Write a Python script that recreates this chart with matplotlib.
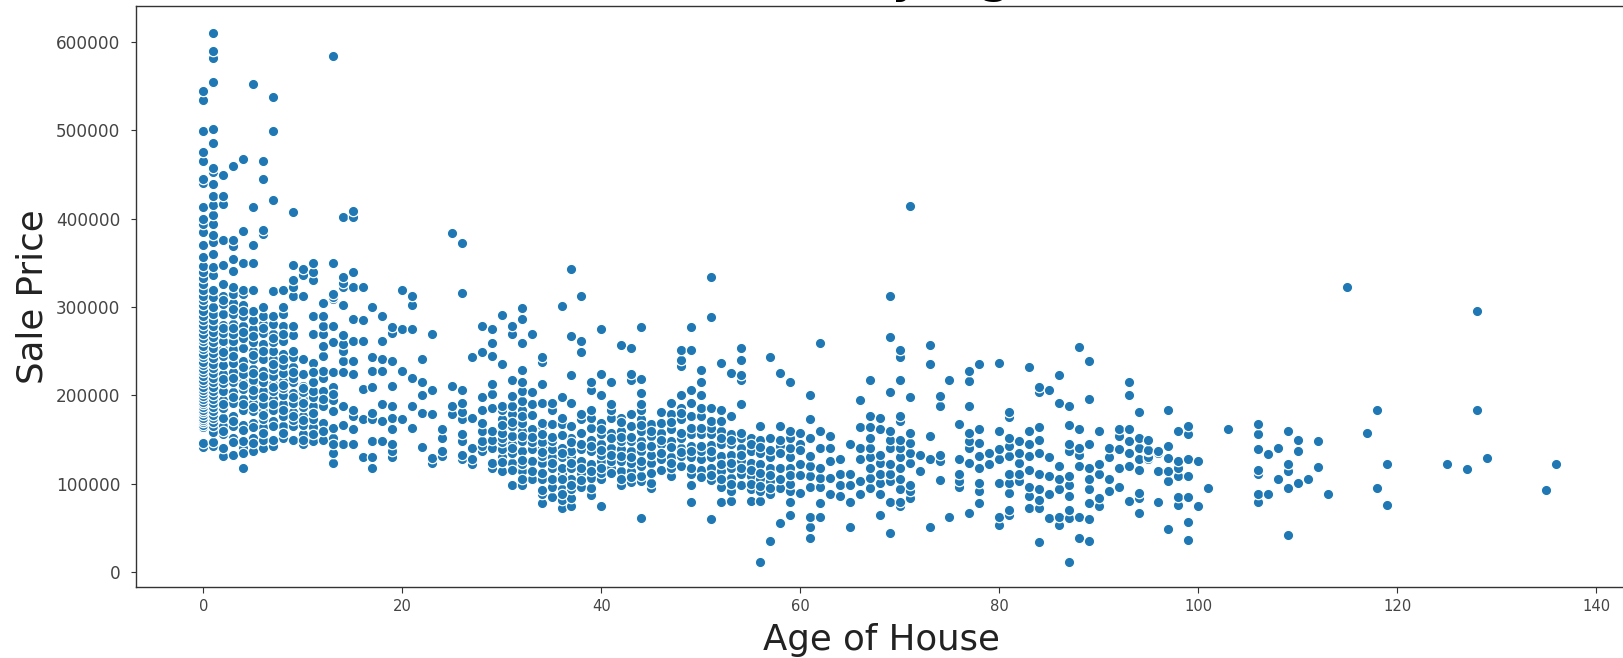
import matplotlib
matplotlib.use("Agg")
import matplotlib.pyplot as plt

# sale prices in thousands, one list per age of house
ages_0_9 = {
    0: [142, 146, 164, 167, 170, 172, 175, 178, 181, 184, 187, 190, 193, 196, 199, 203, 206, 210, 214, 218, 222, 226, 230, 234, 238, 243, 247, 252, 256, 261, 265, 270, 275, 280, 285, 290, 296, 302, 308, 313, 319, 326, 333, 340, 346, 357, 370, 385, 394, 400, 413, 440, 445, 465, 475, 499, 534, 544],
    1: [143, 147, 159, 165, 170, 174, 178, 182, 187, 191, 196, 201, 205, 210, 215, 220, 225, 231, 236, 242, 248, 254, 260, 266, 272, 278, 285, 292, 300, 311, 319, 336, 345, 360, 373, 381, 394, 404, 415, 425, 439, 453, 457, 485, 501, 553, 555, 582, 590, 610],
    2: [131, 141, 156, 165, 175, 186, 195, 205, 214, 224, 234, 245, 253, 262, 271, 280, 292, 303, 313, 326, 347, 376, 416, 425, 449],
    3: [133, 152, 165, 177, 192, 204, 215, 226, 237, 252, 261, 270, 281, 292, 305, 315, 323, 341, 354, 369, 376, 459],
    4: [118, 141, 148, 167, 184, 196, 207, 215, 224, 239, 254, 265, 279, 290, 302, 315, 319, 350, 386, 467],
    5: [137, 152, 169, 182, 192, 201, 210, 218, 230, 241, 250, 260, 275, 285, 296, 319, 350, 370, 413, 552],
    6: [141, 150, 164, 173, 182, 190, 205, 215, 228, 241, 258, 271, 281, 290, 300, 382, 387, 445, 465],
    7: [143, 171, 184, 196, 205, 213, 222, 230, 241, 250, 260, 269, 281, 290, 318, 421, 499, 537],
    8: [152, 165, 177, 190, 201, 208, 216, 225, 234, 247, 262, 279, 292, 300, 319],
    9: [165, 172, 181, 192, 203, 215, 220, 232, 243, 268, 279, 311, 313, 323, 330, 347, 408],
}
ages_10_19 = {
    10: [145, 156, 167, 177, 187, 196, 204, 211, 224, 241, 313, 336, 343],
    11: [148, 164, 173, 188, 198, 205, 215, 237, 269, 290, 331, 340, 350],
    12: [150, 169, 188, 205, 220, 228, 245, 256, 269, 279, 290, 305],
    13: [124, 135, 152, 163, 182, 195, 209, 226, 260, 279, 309, 311, 315, 350, 584],
    14: [145, 167, 188, 226, 239, 250, 258, 268, 302, 323, 327, 334, 402],
    15: [145, 162, 177, 184, 224, 239, 262, 286, 323, 340, 402, 409],
    16: [130, 173, 207, 262, 285, 323],
    17: [118, 130, 148, 173, 180, 209, 228, 243, 300],
    18: [148, 171, 190, 228, 241, 262, 290],
    19: [130, 137, 145, 162, 175, 188, 211, 239, 271, 277],
}
ages_20_39 = {
    20: [173, 228, 275, 319],
    21: [163, 188, 220, 275, 302, 313],
    22: [142, 180, 201, 215, 241],
    23: [124, 129, 179, 206, 269],
    24: [131, 137, 152, 162],
    25: [179, 188, 211, 384],
    26: [128, 133, 148, 156, 173, 181, 191, 206, 316, 372],
    27: [122, 128, 140, 174, 243],
    28: [137, 143, 148, 160, 169, 183, 198, 249, 278],
    29: [118, 124, 141, 150, 160, 186, 202, 213, 245, 259, 275],
    30: [114, 130, 139, 147, 152, 162, 173, 183, 188, 235, 291],
    31: [99, 124, 135, 145, 154, 165, 179, 188, 199, 217, 270, 279],
    32: [99, 114, 122, 137, 148, 160, 169, 184, 194, 205, 215, 229, 259, 287, 299],
    33: [105, 126, 139, 147, 162, 190, 204, 269],
    34: [78, 88, 105, 124, 131, 141, 147, 165, 169, 192, 213, 238, 243],
    35: [85, 97, 118, 130, 139, 148, 168, 184, 191],
    36: [73, 82, 94, 111, 118, 130, 141, 168, 175, 198, 301],
    37: [75, 84, 94, 105, 118, 131, 137, 152, 165, 192, 223, 267, 343],
    38: [97, 112, 126, 139, 158, 173, 179, 249, 261, 313],
    39: [87, 95, 107, 122, 137, 150, 163, 175, 184, 206, 215],
}
ages_40_59 = {
    40: [75, 105, 112, 126, 133, 145, 156, 169, 200, 224, 275],
    41: [118, 126, 141, 158, 175, 184, 190, 215],
    42: [99, 114, 126, 139, 148, 160, 175, 257],
    43: [102, 114, 124, 137, 148, 165, 179, 217, 224, 254],
    44: [61, 103, 109, 120, 137, 148, 160, 173, 184, 190, 203, 219, 277],
    45: [95, 101, 124, 133, 154, 168],
    46: [116, 128, 145, 158, 169, 181],
    47: [109, 118, 130, 148, 162, 179, 192],
    48: [120, 131, 141, 152, 173, 186, 200, 233, 240, 251],
    49: [79, 99, 111, 130, 143, 156, 177, 192, 206, 251, 277],
    50: [116, 128, 137, 156, 177, 186, 200, 215, 229],
    51: [60, 104, 118, 130, 144, 156, 163, 171, 186, 289, 334],
    52: [80, 97, 114, 131, 145, 160, 171, 184, 237],
    53: [81, 92, 107, 118, 133, 145, 156, 177, 225],
    54: [99, 111, 126, 141, 152, 190, 217, 223, 240, 254],
    55: [81, 94, 109, 124, 137, 152],
    56: [12, 81, 92, 105, 122, 135, 150, 165],
    57: [35, 88, 103, 118, 130, 152, 243],
    58: [56, 95, 118, 143, 165, 225],
    59: [65, 80, 92, 118, 130, 141, 152, 160, 215],
}
ages_60_79 = {
    60: [90, 122, 145, 158],
    61: [39, 51, 63, 97, 109, 120, 131, 152, 173, 201],
    62: [63, 78, 97, 107, 118, 141, 160, 259],
    63: [88, 107, 126, 141, 154],
    64: [86, 99, 111, 128],
    65: [51, 80, 99, 111, 145],
    66: [88, 103, 128, 141, 164, 195],
    67: [95, 107, 118, 130, 141, 152, 164, 177, 218],
    68: [65, 88, 101, 111, 124, 133, 162, 174],
    69: [44, 80, 103, 111, 122, 141, 150, 160, 204, 266, 312],
    70: [75, 80, 94, 105, 118, 130, 141, 150, 171, 177, 218, 243, 251],
    71: [84, 92, 99, 124, 135, 146, 158, 198, 414],
    72: [114, 133],
    73: [51, 128, 154, 235, 257],
    74: [104, 126, 133, 188, 199],
    75: [63, 218],
    76: [97, 103, 111, 128, 168],
    77: [67, 124, 141, 148, 158, 188, 216, 228],
    78: [78, 92, 101, 118, 131, 146, 162, 235],
    79: [122, 135],
}
ages_80_up = {
    80: [54, 63, 101, 128, 139, 160, 237],
    81: [65, 71, 90, 101, 111, 131, 143, 152, 176, 181],
    82: [103, 111, 124, 135, 148],
    83: [73, 86, 97, 116, 131, 145, 160, 232],
    84: [34, 73, 82, 94, 111, 135, 150, 164, 204, 209],
    85: [61, 88, 109, 130, 206],
    86: [54, 63, 94, 105, 120, 191, 223],
    87: [12, 61, 71, 86, 99, 109, 137, 145, 167, 188],
    88: [39, 63, 120, 133, 141, 162, 255],
    89: [35, 60, 78, 94, 105, 118, 145, 196, 239],
    90: [75, 84, 111, 122, 160],
    91: [92, 105, 130, 141],
    92: [97, 118, 139, 154, 162],
    93: [81, 120, 135, 148, 162, 200, 215],
    94: [67, 84, 90, 116, 128, 141, 152, 181],
    95: [128, 130, 137, 138, 150],
    96: [80, 114, 135, 137],
    97: [49, 103, 114, 129, 143, 184],
    98: [76, 85, 109, 118, 126, 160],
    99: [37, 57, 85, 109, 128, 156, 165],
    100: [75, 126],
    101: [95],
    103: [162],
    106: [79, 88, 111, 116, 139, 156, 168],
    107: [89, 134],
    108: [105, 140],
    109: [42, 95, 114, 122, 160],
    110: [101, 137, 150],
    111: [105],
    112: [119, 148],
    113: [89],
    115: [323],
    117: [158],
    118: [95, 184],
    119: [76, 123],
    125: [122],
    127: [117],
    128: [184, 295],
    129: [129],
    135: [93],
    136: [122],
}
# marks that only show as crescents behind others in the dense part of the cloud
overlapped = {
    2: [160, 190, 219, 249, 276, 308],
    3: [147, 171, 198, 220, 245, 276, 298],
    4: [135, 161, 190, 212, 232, 272, 296],
    5: [146, 164, 187, 206, 225, 246, 267],
    6: [157, 178, 198, 222, 250, 276],
    7: [150, 165, 190, 209, 236, 265],
    8: [158, 184, 212, 241, 270],
    9: [150, 177, 198, 226, 250],
    10: [150, 172, 192, 208],
    11: [156, 180, 226],
    12: [160, 196],
    13: [145, 202],
    30: [125, 157, 167],
    31: [116, 140, 170],
    32: [105, 127, 154, 177],
    33: [115, 153, 178],
    34: [93, 112, 136, 156],
    35: [105, 124, 153],
    36: [88, 105, 135, 155],
    37: [99, 124, 147],
    38: [104, 118, 145],
    39: [114, 143],
    40: [118, 138, 162],
    41: [112, 133, 152],
    42: [105, 132, 153, 170],
    43: [108, 130, 153],
    44: [126, 143, 166],
    45: [112, 143, 160],
    46: [135, 150],
    47: [124, 142, 170],
    48: [136, 158, 180],
    49: [118, 137, 163],
    50: [108, 143, 163],
    51: [110, 137],
    52: [105, 122, 152],
    53: [100, 124, 150],
    54: [118, 133, 158],
    55: [100, 116, 145],
    56: [98, 112, 142],
    57: [95, 110, 138],
    58: [105, 135, 150],
    59: [100, 110],
    60: [110, 138],
}
x_ticks = [0, 20, 40, 60, 80, 100, 120, 140]
y_ticks = [0, 100000, 200000, 300000, 400000, 500000, 600000]

age, price = [], []
for group in [ages_0_9, ages_10_19, ages_20_39, ages_40_59, ages_60_79, ages_80_up, overlapped]:
    for a, values in group.items():
        for v in values:
            age.append(a)
            price.append(v * 1000)

W, H = 1623, 658
fig = plt.figure(figsize=(W / 100, H / 100), dpi=100)
ax = fig.add_axes([136 / W, (H - 586.7) / H, (1626 - 136) / W, (586.7 - 6) / H])

ax.scatter(age, price, s=56, color="#1f77b4", edgecolors="white", linewidths=0.9)

ax.set_xlim(-6.77, 143.0)
ax.set_ylim(-16300, 640400)
ax.set_xticks(x_ticks)
ax.set_yticks(y_ticks)
ax.tick_params(axis="x", labelsize=10.6, length=4.5, width=0.8, pad=4, colors="#333333", labelcolor="#444444")
ax.tick_params(axis="y", labelsize=12.2, length=3.6, width=0.8, pad=7.5, colors="#333333", labelcolor="#444444")

ax.set_xlabel("Age of House", fontsize=25.6, labelpad=6.5, color="#222222")
ax.set_ylabel("Sale Price", fontsize=25.6, labelpad=5, color="#222222")
# the title is cut off by the top edge of the image, only the tails show
ax.set_title("Sale Price by Age", fontsize=39, x=0.4526, pad=11)

for side in ["left", "bottom", "top", "right"]:
    ax.spines[side].set_color("#333333")
    ax.spines[side].set_linewidth(1.0)

plt.savefig("out.png", dpi=100)
